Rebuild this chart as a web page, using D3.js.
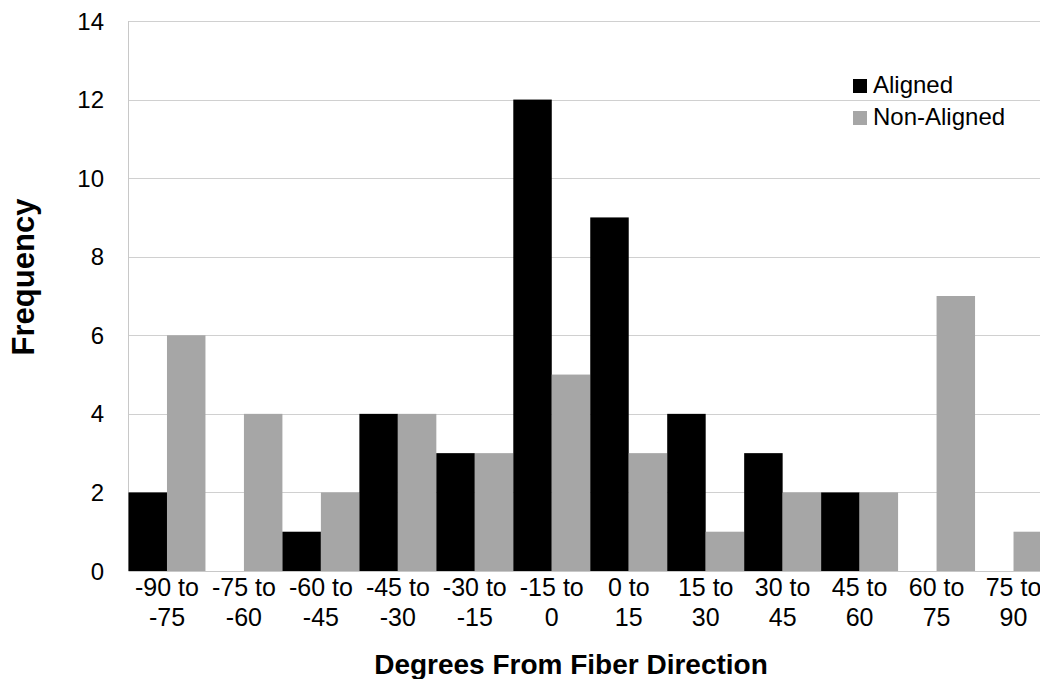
<!DOCTYPE html>
<html><head><meta charset="utf-8">
<script src="https://cdn.jsdelivr.net/npm/d3@7"></script>
<style>body{margin:0;background:#fff}svg{display:block;font-family:Arial,"Liberation Sans",sans-serif}</style>
</head><body><svg id="c" width="1040" height="679"></svg>
<script>
const categories = ["-90 to|-75","-75 to|-60","-60 to|-45","-45 to|-30","-30 to|-15","-15 to|0","0 to|15","15 to|30","30 to|45","45 to|60","60 to|75","75 to|90"];
const aligned =    [2,0,1,4,3,12,9,4,3,2,0,0];
const nonAligned = [6,4,2,4,3,5,3,1,2,2,7,1];
const seriesNames = ["Aligned","Non-Aligned"];
const seriesColors = ["#000000","#a6a6a6"];
const yTicks = [0,2,4,6,8,10,12,14];

const svg = d3.select("#c");
const L=128.5, R=1052, T=21, B=571;
const x = d3.scaleBand().domain(categories).range([L,R]).padding(0);
const xs = d3.scaleBand().domain(seriesNames).range([0,x.bandwidth()]).padding(0);
const y = d3.scaleLinear().domain([0,14]).range([B,T]);

// gridlines
svg.append("g").selectAll("line").data(yTicks.filter(d=>d>0)).join("line")
  .attr("x1",L).attr("x2",R).attr("y1",d=>Math.round(y(d))+0.5).attr("y2",d=>Math.round(y(d))+0.5)
  .attr("stroke","#d0d0d0").attr("stroke-width",1);
// left axis line
svg.append("line").attr("x1",L).attr("x2",L).attr("y1",T).attr("y2",B).attr("stroke","#c8c8c8");

const data = categories.map((c,i)=>({c, vals:[aligned[i],nonAligned[i]]}));
const g = svg.append("g");
data.forEach(d=>{
  d.vals.forEach((v,j)=>{
    if(v<=0) return;
    g.append("rect").attr("x",x(d.c)+xs(seriesNames[j])).attr("width",xs.bandwidth())
      .attr("y",y(v)).attr("height",y(0)-y(v)).attr("fill",seriesColors[j]);
  });
});
// bottom axis
svg.append("line").attr("x1",L).attr("x2",R).attr("y1",B+0.5).attr("y2",B+0.5).attr("stroke","#c8c8c8");

// y tick labels
svg.append("g").selectAll("text").data(yTicks).join("text")
  .attr("x",104).attr("y",d=>y(d)).attr("dy","0.36em").attr("text-anchor","end")
  .attr("font-size",24).attr("fill","#000").text(d=>d);

// x tick labels
const xl = svg.append("g").selectAll("text").data(categories).join("text")
  .attr("text-anchor","middle").attr("font-size",25).attr("fill","#000");
xl.each(function(d){
  const parts=d.split("|"); const cx=x(d)+x.bandwidth()/2;
  const t=d3.select(this);
  t.append("tspan").attr("x",cx).attr("y",596).text(parts[0]);
  t.append("tspan").attr("x",cx).attr("y",626).text(parts[1]);
});

// axis titles
svg.append("text").attr("x",571).attr("y",674).attr("text-anchor","middle")
  .attr("font-size",28).attr("font-weight","bold").text("Degrees From Fiber Direction");
svg.append("text").attr("transform","translate(34,277) rotate(-90)").attr("text-anchor","middle")
  .attr("font-size",31).attr("font-weight","bold").text("Frequency");

// legend
const lg = svg.append("g");
seriesNames.forEach((s,i)=>{
  const base = 93 + i*32;
  lg.append("rect").attr("x",853).attr("y",base-14).attr("width",14).attr("height",14).attr("fill",seriesColors[i]);
  lg.append("text").attr("x",873).attr("y",base).attr("font-size",24).attr("fill","#000").text(s);
});
</script></body></html>
